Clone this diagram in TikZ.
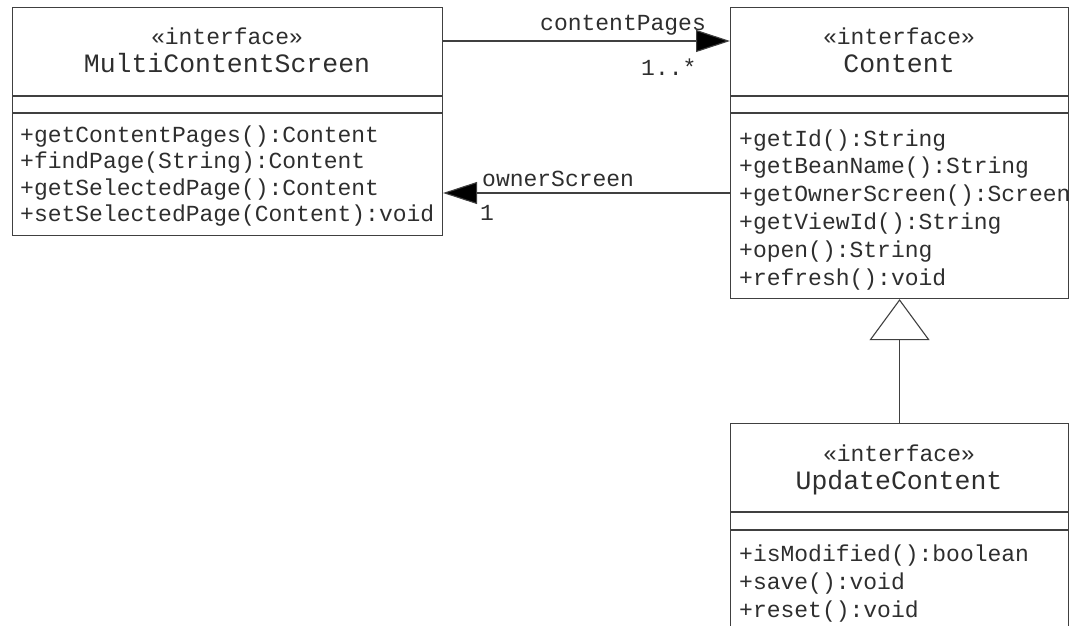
\documentclass[tikz,border=0pt]{standalone}
\usepackage{fontspec}
\setmainfont{Liberation Mono}
\usetikzlibrary{arrows.meta}
\definecolor{ink}{HTML}{2E2E2E}
\definecolor{rule}{HTML}{404040}
\tikzset{
  umlbox/.style={draw=rule, line width=1.1pt, anchor=north west, inner sep=0pt},
  stereo/.style={font=\fontsize{23}{27}\selectfont, anchor=base, inner sep=0pt, text=ink},
  cname/.style={font=\fontsize{26.5}{30}\selectfont, anchor=base, inner sep=0pt, text=ink},
  member/.style={font=\fontsize{23}{27}\selectfont, anchor=base west, inner sep=0pt, text=ink},
  sepline/.style={draw=rule, line width=1.1pt},
  assoc/.style={draw=rule, line width=1.1pt, -{Triangle[length=34pt,width=22pt,fill=black]}},
  realize/.style={draw=rule, line width=1.1pt, -{Triangle[open,length=41pt,width=60pt,fill=white]}},
}
\begin{document}
\begin{tikzpicture}[x=1pt,y=-1pt]
  \useasboundingbox (0,0) rectangle (1079,626);
  \clip (0,0) rectangle (1079,626);

  % class boxes
  \node[umlbox, minimum width=430pt, minimum height=228pt] (mcs) at (12,7) {};
  \node[umlbox, minimum width=338pt, minimum height=291pt] (content) at (730,7) {};
  \node[umlbox, minimum width=338pt, minimum height=240pt] (upd) at (730,423) {};

  % compartments
  \draw[sepline] (mcs.west |- 0,96) -- (mcs.east |- 0,96);
  \draw[sepline] (mcs.west |- 0,113) -- (mcs.east |- 0,113);
  \draw[sepline] (content.west |- 0,96) -- (content.east |- 0,96);
  \draw[sepline] (content.west |- 0,113) -- (content.east |- 0,113);
  \draw[sepline] (upd.west |- 0,512) -- (upd.east |- 0,512);
  \draw[sepline] (upd.west |- 0,530) -- (upd.east |- 0,530);

  % MultiContentScreen
  \node[stereo] (mcsst) at (227,45) {«interface»};
  \node[cname] (mcsnm) at (227,73) {MultiContentScreen};
  \node[member] (m1) at (20,142) {+getContentPages():Content};
  \node[member] (m2) at (20,168) {+findPage(String):Content};
  \node[member] (m3) at (20,195) {+getSelectedPage():Content};
  \node[member] (m4) at (20,221) {+setSelectedPage(Content):void};

  % Content
  \node[stereo] (cst) at (899,45) {«interface»};
  \node[cname] (cnm) at (899,73) {Content};
  \node[member] (c1) at (739,146) {+getId():String};
  \node[member] (c2) at (739,173) {+getBeanName():String};
  \node[member] (c3) at (739,201) {+getOwnerScreen():Screen};
  \node[member] (c4) at (739,229) {+getViewId():String};
  \node[member] (c5) at (739,257) {+open():String};
  \node[member] (c6) at (739,285) {+refresh():void};

  % UpdateContent
  \node[stereo] (ust) at (899,461) {«interface»};
  \node[cname] (unm) at (899,489) {UpdateContent};
  \node[member] (u1) at (739,561) {+isModified():boolean};
  \node[member] (u2) at (739,589) {+save():void};
  \node[member] (u3) at (739,617) {+reset():void};

  % association labels
  \node[member] (lcp) at (540,31) {contentPages};
  \node[member] (mcp) at (641,76) {1..*};
  \node[member] (los) at (482,186) {ownerScreen};
  \node[member] (mos) at (480,220) {1};

  % associations
  \draw[assoc] (mcs.east |- 0,41) -- (content.west |- 0,41);
  \draw[assoc] (content.west |- 0,193) -- (mcs.east |- 0,193);

  % generalization
  \draw[realize] (upd.north) -- (content.south);
\end{tikzpicture}
\end{document}
